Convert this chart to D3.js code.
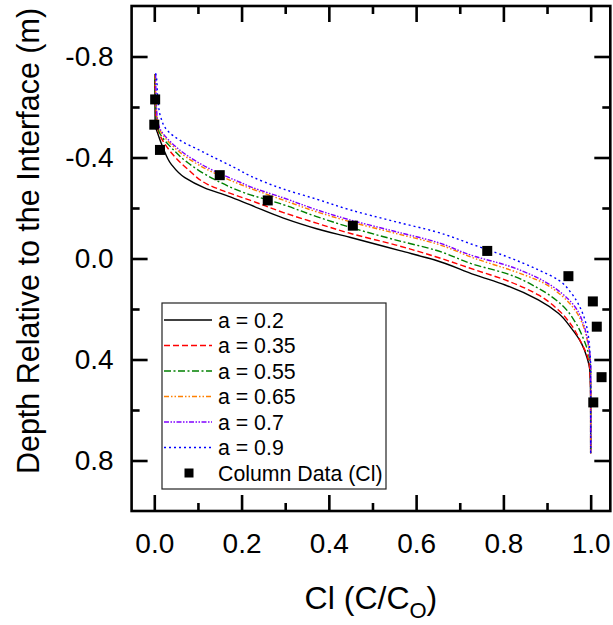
<!DOCTYPE html>
<html>
<head>
<meta charset="utf-8">
<script src="https://cdn.jsdelivr.net/npm/d3@7"></script>
<style>
  html, body { margin: 0; padding: 0; background: #ffffff; }
  svg { display: block; }
  text { font-family: "Liberation Sans", Arial, sans-serif; fill: #000; }
</style>
</head>
<body>
<svg id="chart" width="613" height="625"></svg>
<script>
// ---------------- data ----------------
const xTicksMajor = [0.0, 0.2, 0.4, 0.6, 0.8, 1.0];
const xTicksMinor = [0.1, 0.3, 0.5, 0.7, 0.9];
const yTicksMajor = [-0.8, -0.4, 0.0, 0.4, 0.8];
const yTicksMinor = [-0.6, -0.2, 0.2, 0.6];

const seriesNames = ["a = 0.2", "a = 0.35", "a = 0.55", "a = 0.65", "a = 0.7", "a = 0.9"];
const seriesColors = ["#000000", "#ff0000", "#008000", "#ff8000", "#8000ff", "#0000ff"];
const dataName = "Column Data (Cl)";

// column data (Cl): concentration and depth
const colDataCl = [0.002, 0.0, 0.013, 0.15, 0.26, 0.455, 0.763, 0.949, 1.005, 1.014, 1.025, 1.006];
const colDataDepth = [-0.63, -0.53, -0.43, -0.33, -0.23, -0.13, -0.03, 0.07, 0.17, 0.27, 0.47, 0.57];

// model curves
const a02Cl    = [0.001, 0.002, 0.0085, 0.020, 0.039, 0.070, 0.115, 0.169, 0.219, 0.296, 0.372, 0.448, 0.563, 0.643, 0.735, 0.804, 0.880, 0.926, 0.956, 0.979, 0.991, 0.998, 1.0, 1.0];
const a02Depth = [-0.730, -0.531, -0.492, -0.439, -0.373, -0.320, -0.280, -0.247, -0.213, -0.160, -0.118, -0.084, -0.031, 0.006, 0.065, 0.105, 0.164, 0.217, 0.277, 0.336, 0.389, 0.442, 0.561, 0.771];

const a035Cl    = [0.0016, 0.004, 0.012, 0.039, 0.077, 0.123, 0.192, 0.219, 0.296, 0.372, 0.448, 0.552, 0.643, 0.735, 0.804, 0.880, 0.926, 0.956, 0.979, 0.993, 0.998, 1.0, 1.0];
const a035Depth = [-0.729, -0.55, -0.492, -0.419, -0.353, -0.293, -0.247, -0.231, -0.182, -0.140, -0.100, -0.054, -0.008, 0.045, 0.085, 0.144, 0.204, 0.264, 0.336, 0.389, 0.442, 0.55, 0.771];

const a055Cl    = [0.0016, 0.005, 0.012, 0.039, 0.077, 0.138, 0.207, 0.296, 0.372, 0.448, 0.552, 0.643, 0.735, 0.804, 0.880, 0.934, 0.964, 0.983, 0.995, 1.0, 1.0];
const a055Depth = [-0.73, -0.55, -0.498, -0.439, -0.379, -0.313, -0.260, -0.213, -0.166, -0.124, -0.074, -0.034, 0.025, 0.058, 0.118, 0.184, 0.250, 0.316, 0.376, 0.442, 0.771];

const a065Cl    = [0.002, 0.006, 0.012, 0.039, 0.077, 0.138, 0.199, 0.296, 0.372, 0.448, 0.552, 0.643, 0.735, 0.827, 0.880, 0.934, 0.964, 0.983, 0.993, 0.998, 1.0, 1.0];
const a065Depth = [-0.73, -0.562, -0.512, -0.451, -0.397, -0.338, -0.292, -0.231, -0.185, -0.146, -0.100, -0.060, 0.000, 0.052, 0.087, 0.148, 0.204, 0.267, 0.331, 0.387, 0.45, 0.771];

const a07Cl    = [0.003, 0.006, 0.012, 0.039, 0.077, 0.138, 0.199, 0.219, 0.296, 0.372, 0.448, 0.552, 0.643, 0.735, 0.804, 0.880, 0.934, 0.964, 0.983, 0.993, 0.998, 1.0, 1.0];
const a07Depth = [-0.733, -0.57, -0.518, -0.459, -0.406, -0.346, -0.300, -0.285, -0.240, -0.193, -0.153, -0.107, -0.067, -0.008, 0.025, 0.078, 0.138, 0.191, 0.257, 0.323, 0.376, 0.442, 0.771];

const a09Cl    = [0.003, 0.005, 0.0085, 0.015, 0.031, 0.062, 0.100, 0.138, 0.184, 0.219, 0.296, 0.372, 0.448, 0.552, 0.643, 0.735, 0.804, 0.880, 0.926, 0.956, 0.975, 0.987, 0.995, 0.998, 1.0, 1.0];
const a09Depth = [-0.733, -0.717, -0.624, -0.558, -0.505, -0.465, -0.432, -0.399, -0.360, -0.328, -0.275, -0.235, -0.193, -0.146, -0.107, -0.052, -0.010, 0.045, 0.085, 0.138, 0.191, 0.244, 0.310, 0.363, 0.442, 0.771];

// ---------------- drawing ----------------
const seriesCl = [a02Cl, a035Cl, a055Cl, a065Cl, a07Cl, a09Cl];
const seriesDepth = [a02Depth, a035Depth, a055Depth, a065Depth, a07Depth, a09Depth];
const dashes = ["none", "6,3", "7,2.5,2,2.5", "5,2,1.5,2,1.5,2", "5,1.5,1.5,1.5,1.5,1.5", "2,3"];

const svg = d3.select("#chart");
svg.append("rect").attr("width", 613).attr("height", 625).attr("fill", "#fff");

const x = d3.scaleLinear().domain([-0.052, 1.045]).range([131.6, 610.3]);
const y = d3.scaleLinear().domain([-1, 1]).range([6, 511]);

const pLeft = x.range()[0], pRight = x.range()[1], pTop = y.range()[0], pBottom = y.range()[1];
const f1 = d3.format(".1f");
const fmt = d => f1(d).replace("\u2212", "-");
const axisStroke = 2.6;
const FONT = "'Liberation Sans', Arial, sans-serif";

function styleAxis(g) {
  g.select(".domain").remove();
  g.selectAll(".tick line").attr("stroke", "#000").attr("stroke-width", axisStroke);
}

// bottom
svg.append("g").attr("transform", `translate(0,${pBottom})`)
  .call(d3.axisBottom(x).tickValues(xTicksMajor).tickSize(-16).tickPadding(22).tickFormat(fmt))
  .call(styleAxis)
  .call(g => g.selectAll("text").attr("font-size", 28).attr("font-family", FONT));
svg.append("g").attr("transform", `translate(0,${pBottom})`)
  .call(d3.axisBottom(x).tickValues(xTicksMinor).tickSize(-8).tickFormat(""))
  .call(styleAxis);
// top
svg.append("g").attr("transform", `translate(0,${pTop})`)
  .call(d3.axisTop(x).tickValues(xTicksMajor).tickSize(-16).tickFormat(""))
  .call(styleAxis);
svg.append("g").attr("transform", `translate(0,${pTop})`)
  .call(d3.axisTop(x).tickValues(xTicksMinor).tickSize(-8).tickFormat(""))
  .call(styleAxis);
// left
svg.append("g").attr("transform", `translate(${pLeft},0)`)
  .call(d3.axisLeft(y).tickValues(yTicksMajor).tickSize(-16).tickPadding(18).tickFormat(fmt))
  .call(styleAxis)
  .call(g => g.selectAll("text").attr("font-size", 28).attr("font-family", FONT));
svg.append("g").attr("transform", `translate(${pLeft},0)`)
  .call(d3.axisLeft(y).tickValues(yTicksMinor).tickSize(-8).tickFormat(""))
  .call(styleAxis);
// right
svg.append("g").attr("transform", `translate(${pRight},0)`)
  .call(d3.axisRight(y).tickValues(yTicksMajor).tickSize(-16).tickFormat(""))
  .call(styleAxis);
svg.append("g").attr("transform", `translate(${pRight},0)`)
  .call(d3.axisRight(y).tickValues(yTicksMinor).tickSize(-8).tickFormat(""))
  .call(styleAxis);

// curves
const line = d3.line().x(d => x(d[0])).y(d => y(d[1])).curve(d3.curveMonotoneY);
seriesCl.forEach((cl, i) => {
  const pts = cl.map((c, j) => [c, seriesDepth[i][j]]);
  svg.append("path")
    .attr("d", line(pts))
    .attr("fill", "none")
    .attr("stroke", seriesColors[i])
    .attr("stroke-width", 1.4)
    .attr("stroke-dasharray", dashes[i]);
});

// data squares
const sq = 10;
svg.append("g").selectAll("rect")
  .data(colDataCl.map((c, i) => [c, colDataDepth[i]]))
  .join("rect")
  .attr("x", d => x(d[0]) - sq / 2)
  .attr("y", d => y(d[1]) - sq / 2)
  .attr("width", sq).attr("height", sq)
  .attr("fill", "#000");

// frame
svg.append("rect")
  .attr("x", pLeft).attr("y", pTop)
  .attr("width", pRight - pLeft).attr("height", pBottom - pTop)
  .attr("fill", "none").attr("stroke", "#000").attr("stroke-width", axisStroke);

// legend
const lg = svg.append("g");
const lgX = 162, lgY = 303, lgW = 224, lgH = 186, rowH = 25.5, row0 = 320;
lg.append("rect").attr("x", lgX).attr("y", lgY).attr("width", lgW).attr("height", lgH)
  .attr("fill", "#fff").attr("stroke", "#222").attr("stroke-width", 1.2);
seriesNames.forEach((nm, i) => {
  const cy = row0 + i * rowH;
  lg.append("line").attr("x1", 164).attr("x2", 212).attr("y1", cy).attr("y2", cy)
    .attr("stroke", seriesColors[i]).attr("stroke-width", 1.4).attr("stroke-dasharray", dashes[i]);
  lg.append("text").attr("x", 218).attr("y", cy).attr("dy", "0.36em")
    .attr("font-size", 21.3).attr("font-family", FONT).text(nm);
});
{
  const cy = row0 + seriesNames.length * rowH;
  lg.append("rect").attr("x", 189 - 4.5).attr("y", cy - 4.5).attr("width", 9).attr("height", 9).attr("fill", "#000");
  lg.append("text").attr("x", 218).attr("y", cy).attr("dy", "0.36em")
    .attr("font-size", 21.3).attr("font-family", FONT).text(dataName);
}

// axis titles
const xt = svg.append("text").attr("x", (pLeft + pRight) / 2).attr("y", 609)
  .attr("text-anchor", "middle").attr("font-size", 32).attr("font-family", FONT);
xt.append("tspan").text("Cl (C/C");
xt.append("tspan").attr("dy", 9).attr("font-size", 22).text("O");
xt.append("tspan").attr("dy", -9).text(")");

svg.append("text")
  .attr("transform", "translate(39,241) rotate(-90)")
  .attr("text-anchor", "middle").attr("font-size", 30.5).attr("font-family", FONT)
  .text("Depth Relative to the Interface (m)");
</script>
</body>
</html>
